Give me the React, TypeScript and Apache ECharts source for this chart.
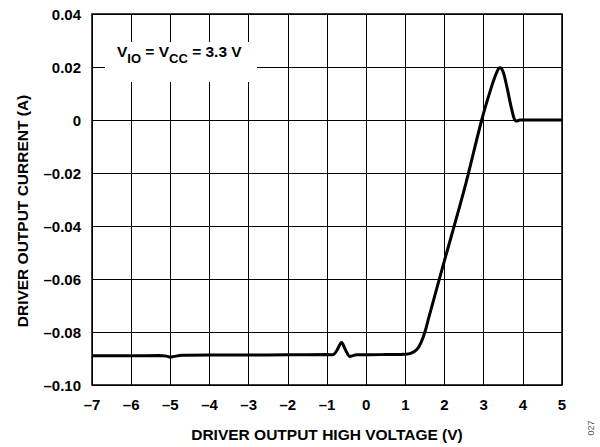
import React, { useEffect, useRef } from "react";
import * as echarts from "echarts";

const voltage = [-7, -6, -5.3, -5.1, -5.0, -4.9, -4.7, -4, -3, -2, -1, -0.85, -0.75, -0.63, -0.52, -0.42, -0.35, -0.25, 0, 0.5, 1, 1.15, 1.3, 1.4, 1.5, 1.6, 2, 2.5, 2.95, 3.2, 3.35, 3.42, 3.5, 3.6, 3.7, 3.78, 3.84, 3.92, 4.2, 5];
const current = [-0.089, -0.089, -0.0889, -0.0891, -0.0895, -0.0892, -0.0888, -0.0887, -0.0887, -0.0886, -0.0885, -0.0886, -0.087, -0.084, -0.087, -0.0892, -0.089, -0.0886, -0.0886, -0.0885, -0.0884, -0.088, -0.0865, -0.084, -0.08, -0.0745, -0.053, -0.0265, 0.0, 0.0125, 0.0185, 0.0197, 0.018, 0.012, 0.005, 0.0005, -0.0004, 0.0, 0.0, 0.0];

const xTitle = "DRIVER OUTPUT HIGH VOLTAGE (V)";
const yTitle = "DRIVER OUTPUT CURRENT (A)";
const FONT = "'Liberation Sans', Arial, sans-serif";

const dash = (s: string) => s.replace("-", "\u2013");

export default function App() {
  const ref = useRef<HTMLDivElement>(null);
  useEffect(() => {
    const chart = echarts.init(ref.current!, null, { renderer: "svg" });
    const data = voltage.map((v, i) => [v, current[i]]);
    chart.setOption({
      animation: false,
      backgroundColor: "#fff",
      grid: { left: 92, right: 38, top: 14, bottom: 58, show: true, borderColor: "#000", borderWidth: 1.5 },
      xAxis: {
        type: "value", min: -7, max: 5, interval: 1,
        name: xTitle, nameLocation: "middle", nameGap: 41,
        nameTextStyle: { fontFamily: FONT, fontWeight: "bold", fontSize: 15.5, color: "#000" },
        axisLine: { show: false }, axisTick: { show: false },
        axisLabel: { margin: 12, fontFamily: FONT, fontWeight: "bold", fontSize: 15, color: "#000", formatter: (v: number) => dash(String(Math.round(v))) },
        splitLine: { show: true, lineStyle: { color: "#000", width: 1 } },
      },
      yAxis: {
        type: "value", min: -0.1, max: 0.04, interval: 0.02,
        axisLine: { show: false }, axisTick: { show: false },
        axisLabel: {
          margin: 11, fontFamily: FONT, fontWeight: "bold", fontSize: 15, color: "#000",
          formatter: (v: number) => {
            const r = Math.round(v * 100) / 100;
            if (r === 0) return "0";
            return dash(r.toFixed(2));
          },
        },
        splitLine: { show: true, lineStyle: { color: "#000", width: 1 } },
      },
      graphic: [
        {
          type: "rect", shape: { x: 105, y: 42, width: 152, height: 40 }, z: 99,
          style: { fill: "#fff" },
        },
        {
          type: "text", left: 117, top: 43, z: 100,
          style: {
            text: "{a|V}{s|IO}{a| = V}{s|CC}{a| = 3.3 V}",
            rich: {
              a: { fontFamily: FONT, fontWeight: "bold", fontSize: 15.5, fill: "#000", lineHeight: 22, verticalAlign: "top" },
              s: { fontFamily: FONT, fontWeight: "bold", fontSize: 13, fill: "#000", lineHeight: 22, padding: [9, 0, 0, 0] },
            },
          },
        },
        {
          type: "text", x: 22, y: 211, rotation: Math.PI / 2,
          style: { text: yTitle, fontFamily: FONT, fontWeight: "bold", fontSize: 15.5, fill: "#000", align: "center", verticalAlign: "middle" },
        },
        {
          type: "text", x: 591, y: 428, rotation: Math.PI / 2,
          style: { text: "027", fontFamily: FONT, fontSize: 9, fill: "#555", align: "center", verticalAlign: "middle" },
        },
      ],
      series: [
        {
          type: "line", data, showSymbol: false, smooth: 0.3,
          lineStyle: { color: "#000", width: 3 },
        },
      ],
    });
    return () => chart.dispose();
  }, []);
  return <div ref={ref} style={{ position: "fixed", left: 0, top: 0, width: 600, height: 447 }} />;
}
